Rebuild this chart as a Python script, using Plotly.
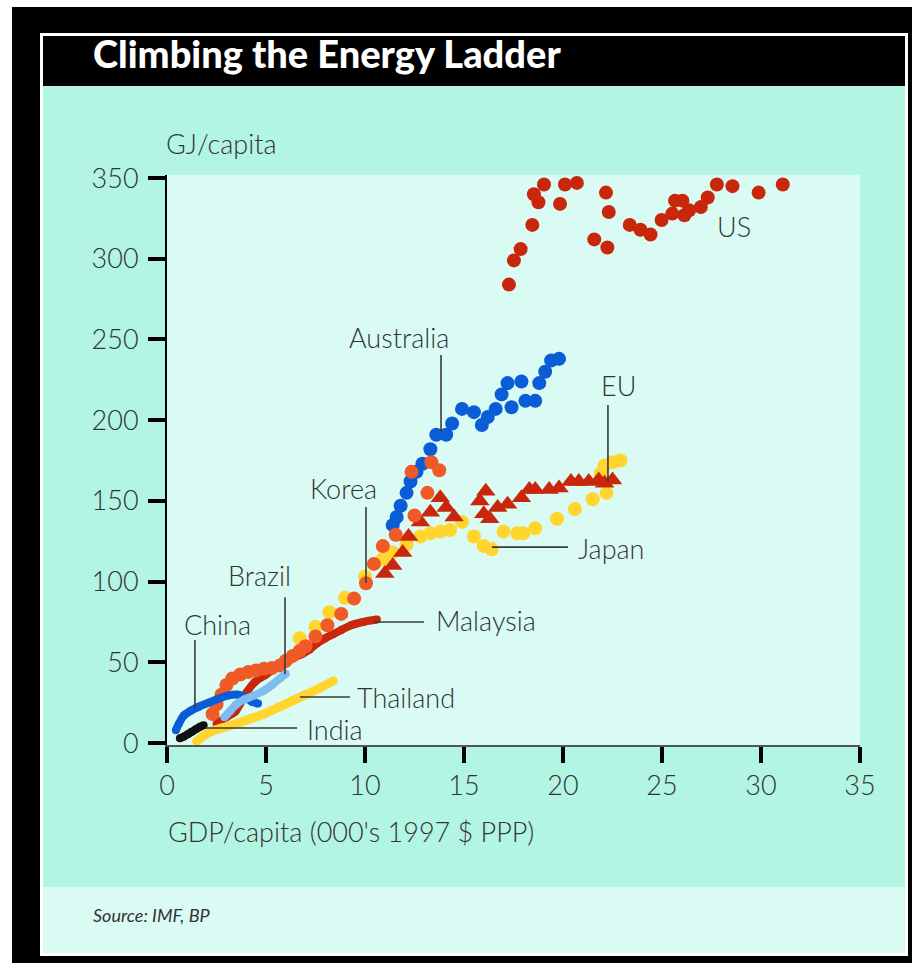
import plotly.graph_objects as go

# ---------------- data (GDP/capita in 000's 1997 $ PPP, GJ/capita) ----------------
us_x = [17.27, 17.52, 17.86, 18.45, 18.53, 18.76, 19.04, 19.85, 20.1, 20.7, 22.17, 22.31,
        21.58, 22.24, 23.37, 23.91, 24.42, 24.98, 25.52, 25.66, 26.03, 26.13, 26.37, 26.96,
        27.31, 27.77, 28.56, 29.88, 31.1]
us_y = [284, 299, 306, 321, 340, 335, 346, 334, 346, 347, 341, 329,
        312, 307, 321, 318, 315, 324, 328, 336, 336, 327, 330, 332,
        338, 346, 345, 341, 346]

aus_x = [11.4, 11.6, 11.8, 12.1, 12.3, 12.6, 12.9, 13.3, 13.6, 14.1, 14.4, 14.9, 15.5, 15.9,
         16.2, 16.6, 16.9, 17.2, 17.4, 17.9, 18.1, 18.6, 18.8, 19.1, 19.4, 19.8]
aus_y = [135, 140, 147, 155, 162, 168, 173, 182, 191, 191, 198, 207, 205, 197,
         202, 207, 216, 223, 208, 224, 212, 212, 223, 230, 237, 238]

eu_x = [11.0, 11.4, 11.9, 12.2, 12.8, 13.3, 13.8, 14.1, 14.5, 15.8, 16.1, 16.0, 16.3, 16.7,
        17.2, 17.9, 18.3, 18.6, 19.3, 19.8, 20.4, 20.8, 21.3, 21.8, 22.1, 22.5]
eu_y = [105, 110, 118, 128, 137, 143, 152, 146, 140, 150, 156, 142, 139, 146,
        148, 152, 157, 157, 157, 158, 162, 162, 162, 163, 161, 163]

japan_x = [6.7, 7.5, 8.2, 9.0, 10.0, 10.9, 11.4, 12.1, 12.8, 13.3, 13.8, 14.3, 14.9, 15.5,
           16.0, 16.4, 17.0, 17.7, 18.0, 18.6, 19.7, 20.6, 21.5, 21.9, 22.2, 22.1, 22.5, 22.9]
japan_y = [65, 72, 81, 90, 103, 114, 118, 123, 128, 130, 131, 132, 137, 128,
           122, 120, 131, 130, 130, 133, 139, 145, 151, 167, 155, 172, 174, 175]

korea_x = [2.3, 2.5, 2.75, 3.0, 3.3, 3.7, 4.1, 4.5, 4.9, 5.3, 5.7, 6.0, 6.35, 6.7, 7.0, 7.5,
           8.1, 8.8, 9.45, 10.05, 10.45, 10.9, 11.55, 12.5, 13.15, 12.35, 13.35, 13.75]
korea_y = [18, 24, 30, 36, 40, 42.5, 44, 45, 46, 46.5, 48, 51, 54, 57, 60, 66,
           73, 80, 89.5, 99, 111, 122, 129, 141, 155, 168, 174, 169]

malaysia_x = [2.5, 3.0, 3.45, 3.7, 4.0, 4.45, 4.95, 5.45, 5.9, 6.4, 6.8, 7.2, 7.6, 8.0, 8.4,
              8.8, 9.3, 9.9, 10.6]
malaysia_y = [12, 16, 19.5, 24.5, 31, 38, 42, 46, 48.5, 53, 55, 58, 62, 65, 67.5,
              70, 73, 75, 76.5]

thailand_x = [1.5, 1.8, 2.2, 2.8, 3.5, 4.2, 4.9, 5.6, 6.3, 7.0, 7.7, 8.4]
thailand_y = [1, 4, 7, 9.5, 12, 15, 18, 22, 26, 30, 34, 38.5]

china_x = [0.45, 0.6, 0.85, 1.2, 1.6, 2.1, 2.6, 3.1, 3.6, 3.9, 4.3, 4.6]
china_y = [8, 12, 17, 20, 22.5, 25, 27.5, 29.5, 30, 28.5, 25.5, 24.5]

brazil_x = [2.9, 3.2, 3.5, 3.9, 4.4, 4.9, 5.3, 5.7, 6.0]
brazil_y = [16, 20, 24, 27, 29.5, 32.5, 36, 40, 43]

india_x = [0.65, 0.85, 1.05, 1.25, 1.45, 1.65, 1.85]
india_y = [3, 4, 5.5, 7, 8.5, 10, 11]

y_ticks = [0, 50, 100, 150, 200, 250, 300, 350]
x_ticks = [0, 5, 10, 15, 20, 25, 30, 35]

# labels: (text, x, y) in data units
labels = [
    ("US", 28.64, 320.3), ("Australia", 11.72, 251.5), ("EU", 22.78, 221.8),
    ("Korea", 8.89, 157.4), ("Japan", 22.42, 120.8), ("Brazil", 4.65, 103.5),
    ("China", 2.53, 73.7), ("Malaysia", 16.11, 76.2), ("Thailand", 12.07, 28.5),
    ("India", 8.48, 8.7),
]
# leader lines (x0, y0, x1, y1) in data units
leaders = [
    (13.84, 240.4, 13.84, 192.7),   # Australia
    (22.27, 209.4, 22.27, 161.7),   # EU
    (10.05, 146.2, 10.05, 99.1),    # Korea
    (16.41, 121.4, 20.25, 121.4),   # Japan
    (5.96, 90.4, 5.96, 42.7),       # Brazil
    (1.41, 63.8, 1.41, 21.7),       # China
    (10.45, 75.0, 12.98, 75.0),     # Malaysia
    (6.72, 28.5, 9.24, 28.5),       # Thailand
    (1.92, 9.3, 6.57, 9.3),         # India
]

# ---------------- figure ----------------
W, H = 916, 968
L, R, T, B = 167, 860, 175, 745


def PX(px):
    return (px - L) / (R - L)


def PY(py):
    return (B - py) / (B - T)


DARK_RED = "#c9270b"
ORANGE = "#ef5a26"
BLUE = "#0b5cd7"
LIGHT_BLUE = "#7dbdf0"
YELLOW = "#ffd52e"

fig = go.Figure()


def dots(x, y, color, size=14, symbol="circle"):
    fig.add_trace(go.Scatter(x=x, y=y, mode="markers",
                             marker=dict(color=color, size=size, symbol=symbol,
                                         line=dict(width=0)),
                             hoverinfo="skip", showlegend=False))


def band(x, y, color, width=8):
    fig.add_trace(go.Scatter(x=x, y=y, mode="lines+markers",
                             line=dict(color=color, width=width, shape="spline"),
                             marker=dict(color=color, size=width, line=dict(width=0)),
                             hoverinfo="skip", showlegend=False))


dots(japan_x, japan_y, YELLOW)
dots(aus_x, aus_y, BLUE)
dots(eu_x, eu_y, DARK_RED, size=17, symbol="triangle-up")
band(malaysia_x, malaysia_y, DARK_RED, 8)
dots(korea_x, korea_y, ORANGE)
band(thailand_x, thailand_y, YELLOW, 9)
band(china_x, china_y, BLUE, 8)
band(brazil_x, brazil_y, LIGHT_BLUE, 8)
band(india_x, india_y, "#111111", 8)
dots(us_x, us_y, DARK_RED)

shapes = []


def prect(x0, y0, x1, y1, color):
    shapes.append(dict(type="rect", xref="paper", yref="paper",
                       x0=PX(x0), x1=PX(x1), y0=PY(y1), y1=PY(y0),
                       fillcolor=color, line=dict(width=0), layer="below"))


prect(12, 7, 912, 963, "#000000")
prect(40, 33, 908, 956, "#ffffff")
prect(43, 36, 905, 953, "#000000")
prect(43, 86, 905, 887, "#b1f5e2")
prect(43, 887, 905, 953, "#d9fbf3")
prect(L, T, R, B, "#d9fbf3")

for (x0, y0, x1, y1) in leaders:
    shapes.append(dict(type="line", xref="x", yref="y", x0=x0, y0=y0, x1=x1, y1=y1,
                       line=dict(color="#3a3a3a", width=1.6), layer="above"))

TXT = "#333333"
annotations = []
for (t, x, y) in labels:
    annotations.append(dict(text=t, x=x, y=y, xref="x", yref="y", showarrow=False,
                            font=dict(family="Lato", size=27, color=TXT, weight=300)))

annotations += [
    dict(text="Climbing the Energy Ladder", x=PX(91), y=PY(53), xref="paper", yref="paper",
         xanchor="left", yanchor="middle", showarrow=False,
         font=dict(family="Lato", size=38, color="#ffffff", weight=900)),
    dict(text="GJ/capita", x=PX(164), y=PY(143), xref="paper", yref="paper",
         xanchor="left", yanchor="middle", showarrow=False,
         font=dict(family="Lato", size=27, color=TXT, weight=300)),
    dict(text="GDP/capita (000's 1997 $ PPP)", x=PX(166), y=PY(831), xref="paper",
         yref="paper", xanchor="left", yanchor="middle", showarrow=False,
         font=dict(family="Lato", size=27, color=TXT, weight=300)),
    dict(text="<i>Source: IMF, BP</i>", x=PX(91), y=PY(915), xref="paper", yref="paper",
         xanchor="left", yanchor="middle", showarrow=False,
         font=dict(family="Lato", size=18, color="#333333", weight=400)),
]

fig.update_layout(
    width=W, height=H,
    margin=dict(l=L, r=W - R, t=T, b=H - B, pad=0),
    paper_bgcolor="#ffffff",
    plot_bgcolor="rgba(0,0,0,0)",
    shapes=shapes,
    annotations=annotations,
    showlegend=False,
    xaxis=dict(range=[0, 35], tickvals=x_ticks, ticktext=[str(v) for v in x_ticks],
               showgrid=False, zeroline=False, showline=True, linecolor="#555555",
               linewidth=1.5, ticks="outside", ticklen=16, tickwidth=4, tickcolor="#000000",
               ticklabelstandoff=0,
               tickfont=dict(family="Lato", size=27, color=TXT, weight=300), fixedrange=True),
    yaxis=dict(range=[-1.2, 351.9], tickvals=y_ticks, ticktext=[str(v) for v in y_ticks],
               showgrid=False, zeroline=False, showline=True, linecolor="#000000",
               linewidth=2, ticks="outside", ticklen=17, tickwidth=4, tickcolor="#000000",
               ticklabelstandoff=4,
               tickfont=dict(family="Lato", size=27, color=TXT, weight=300), fixedrange=True),
)

fig.write_html("out.html", config={"displayModeBar": False},
               post_script="document.body.style.margin='0px';document.body.style.overflow='hidden';")
